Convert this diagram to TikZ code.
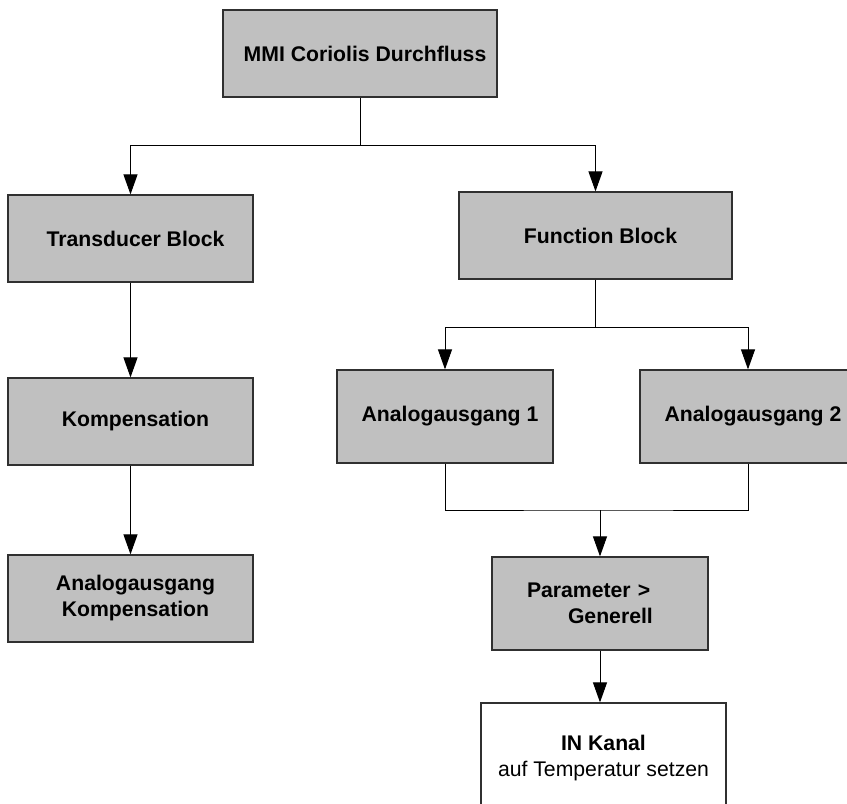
\documentclass[tikz,border=0pt]{standalone}
\usepackage{fontspec}
\setmainfont{Liberation Sans}
\usepackage{color}
\usepackage{tikz}
\usetikzlibrary{arrows.meta}
\usetikzlibrary{positioning,calc}
\definecolor{boxgray}{HTML}{C0C0C0}
\definecolor{edgegray}{HTML}{303030}

\tikzset{
	block/.style={draw=edgegray,fill=boxgray,line width=0.6pt,inner sep=0pt,align=center,
		font=\fontsize{10.6}{13}\selectfont\bfseries},
	whitebox/.style={block,fill=white,font=\fontsize{10.6}{13}\selectfont},
	line/.style={line width=0.5pt,draw=black},
	arr/.style={line,-{Triangle[length=10pt,width=7pt]}}
}

\begin{document}
\begin{tikzpicture}[x=0.5pt,y=-0.5pt]
	\useasboundingbox (0,0) rectangle (847,804);
	\clip (0,0) rectangle (847,804);
	% left column
	\node[block,minimum width=137pt,minimum height=43.5pt] (mmi) at (360,53.5) {\hspace*{5pt}MMI Coriolis Durchfluss};
	\node[block,minimum width=122.5pt,minimum height=43.5pt] (tb) at (130.5,238.5) {\hspace*{5pt}Transducer Block};
	\node[block,minimum width=122.5pt,minimum height=43.5pt] (komp) at (130.5,421.5) {\hspace*{5pt}Kompensation};
	\node[block,minimum width=122.5pt,minimum height=43.5pt] (akomp) at (130.5,598.5) {\hspace*{5pt}Analogausgang\\\hspace*{5pt}Kompensation};
	% right column
	\node[block,minimum width=136.5pt,minimum height=43.5pt] (fb) at (595.5,235.5) {\hspace*{5pt}Function Block};
	\node[block,minimum width=108pt,minimum height=46.5pt] (ag1) at (445,416.5) {\hspace*{5pt}Analogausgang 1};
	\node[block,minimum width=108pt,minimum height=46.5pt] (ag2) at (748,416.5) {\hspace*{5pt}Analogausgang 2};
	\node[block,text width=108pt,align=left,minimum height=46.5pt] (par) at (600,603.5)
		{\hspace*{17.5pt}Parameter >\\\hspace*{38pt}Generell};
	\node[whitebox,minimum width=122.5pt,minimum height=55pt] (kanal) at (603.5,758)
		{\textbf{IN Kanal}\\auf Temperatur setzen};
	\coordinate (split1) at (360,145);
	\coordinate (split2) at (595.5,327);
	\coordinate (merge) at (600,510);
	\draw[line] (mmi.south) -- (split1);
	\draw[arr] (split1) -| (tb.north);
	\draw[arr] (split1) -| (fb.north);
	\draw[arr] (tb) -- (komp);
	\draw[arr] (komp) -- (akomp);
	\draw[line] (fb.south) -- (split2);
	\draw[arr] (split2) -| (ag1.north);
	\draw[arr] (split2) -| (ag2.north);
	\draw[line] (ag1.south) |- (merge) -| (ag2.south);
	\draw[arr] (merge) -- (par.north);
	\draw[arr] (par.south) -- (par.south |- kanal.north);
\end{tikzpicture}
\end{document}
